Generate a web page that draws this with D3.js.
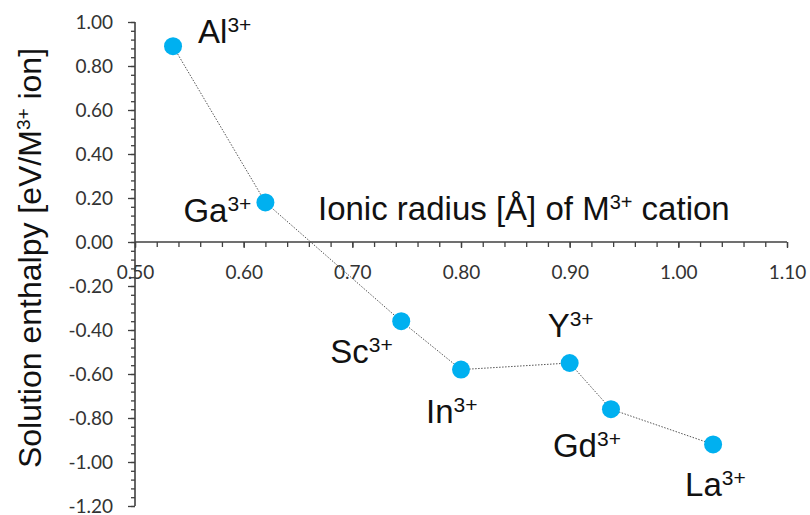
<!DOCTYPE html>
<html>
<head>
<meta charset="utf-8">
<script src="https://cdn.jsdelivr.net/npm/d3@7"></script>
<style>
  html, body { margin: 0; padding: 0; background: #fff; }
  svg { display: block; }
</style>
</head>
<body>
<svg id="chart" width="810" height="515"></svg>
<script>
// ---- data ----
const ions = ["Al", "Ga", "Sc", "In", "Y", "Gd", "La"];
const radius = [0.535, 0.62, 0.745, 0.80, 0.90, 0.938, 1.032];
const enthalpy = [0.89, 0.18, -0.36, -0.58, -0.55, -0.76, -0.92];
const xTickValues = [0.5, 0.6, 0.7, 0.8, 0.9, 1.0, 1.1];
const xTickLabels = ["0.50", "0.60", "0.70", "0.80", "0.90", "1.00", "1.10"];
const yTickValues = [1.0, 0.8, 0.6, 0.4, 0.2, 0.0, -0.2, -0.4, -0.6, -0.8, -1.0, -1.2];
const yTickLabels = ["1.00", "0.80", "0.60", "0.40", "0.20", "0.00", "-0.20", "-0.40", "-0.60", "-0.80", "-1.00", "-1.20"];
const xTitle = ["Ionic radius [Å] of M", "3+", " cation"];
const yTitle = ["Solution enthalpy [eV/M", "3+", " ion]"];

// ---- layout / style (not data) ----
const labelOffsets = [[25, -3], [-82, 20], [-71, 42], [-35, 53], [-22, -26], [-58, 48], [-28, 52]];
const labelFont = "'Liberation Sans', Arial, sans-serif";
const tickFont = "Lato, 'Open Sans', sans-serif";
const axisColor = "#404040";

const svg = d3.select("#chart");
const x = d3.scaleLinear().domain([0.5, 1.1]).range([135, 787]);
const y = d3.scaleLinear().domain([-1.2, 1.0]).range([506, 22]);

const data = ions.map((n, i) => ({ name: n, r: radius[i], h: enthalpy[i], off: labelOffsets[i] }));

// minor ticks
const xMinor = d3.range(0.5, 1.1001, 0.02).map(v => +v.toFixed(2));
const yMinor = d3.range(-1.2, 1.0001, 0.04).map(v => +v.toFixed(2));

// tick labels first (axis lines draw over them)
const xAxisG = svg.append("g").attr("transform", `translate(0,${y(0)})`);
xAxisG.call(d3.axisBottom(x).tickValues(xMinor).tickSize(5).tickFormat(""));
xAxisG.call(g => g.select(".domain").remove());
const xMajor = svg.append("g").attr("transform", `translate(0,${y(0)})`)
  .call(d3.axisBottom(x).tickValues(xTickValues).tickSize(6)
    .tickFormat((d, i) => xTickLabels[i]));
xMajor.select(".domain").remove();
xMajor.selectAll("text")
  .attr("y", 37).attr("dy", 0)
  .attr("font-family", tickFont).attr("font-size", 19).attr("fill", "#333");

const yAxisG = svg.append("g").attr("transform", `translate(${x(0.5)},0)`);
yAxisG.call(d3.axisLeft(y).tickValues(yMinor).tickSize(4).tickFormat(""));
yAxisG.call(g => g.select(".domain").remove());
const yMajor = svg.append("g").attr("transform", `translate(${x(0.5)},0)`)
  .call(d3.axisLeft(y).tickValues(yTickValues).tickSize(7)
    .tickFormat((d, i) => yTickLabels[i]));
yMajor.select(".domain").remove();
yMajor.selectAll("text")
  .attr("x", -22).attr("dy", "0.33em")
  .attr("font-family", tickFont).attr("font-size", 19).attr("fill", "#333");

svg.selectAll(".tick line").attr("stroke", axisColor).attr("stroke-width", 1.3);

// axis lines
svg.append("line").attr("x1", x(0.5)).attr("x2", x(1.1)).attr("y1", y(0)).attr("y2", y(0))
  .attr("stroke", axisColor).attr("stroke-width", 1.6);
svg.append("line").attr("x1", x(0.5)).attr("x2", x(0.5)).attr("y1", y(1.0)).attr("y2", y(-1.2))
  .attr("stroke", axisColor).attr("stroke-width", 1.6);

// connecting dotted line
const line = d3.line().x(d => x(d.r)).y(d => y(d.h));
svg.append("path").datum(data).attr("d", line)
  .attr("fill", "none").attr("stroke", "#555").attr("stroke-width", 1)
  .attr("stroke-dasharray", "1.5,1.5");

// markers
svg.selectAll("circle.pt").data(data).enter().append("circle")
  .attr("class", "pt")
  .attr("cx", d => x(d.r)).attr("cy", d => y(d.h)).attr("r", 9)
  .attr("fill", "#00B0F0");

// labels with superscripts
function supText(sel, parts, big, small, lift) {
  sel.append("tspan").text(parts[0]);
  sel.append("tspan").attr("font-size", small).attr("dy", -lift).text(parts[1]);
  if (parts[2] !== undefined) sel.append("tspan").attr("font-size", big).attr("dy", lift).text(parts[2]);
}

svg.selectAll("text.lbl").data(data).enter().append("text")
  .attr("class", "lbl")
  .attr("x", d => x(d.r) + d.off[0]).attr("y", d => y(d.h) + d.off[1])
  .attr("font-family", labelFont).attr("font-size", 33).attr("fill", "#111")
  .each(function(d) { supText(d3.select(this), [d.name, "3+"], 33, 21, 11); });

// x title
const xt = svg.append("text").attr("x", 318).attr("y", 220)
  .attr("font-family", labelFont).attr("font-size", 33).attr("fill", "#111");
supText(xt, xTitle, 33, 20, 11);

// y title
const yt = svg.append("text").attr("transform", "translate(41,258) rotate(-90)")
  .attr("text-anchor", "middle")
  .attr("font-family", labelFont).attr("font-size", 32).attr("fill", "#111");
supText(yt, yTitle, 32, 19, 11);
</script>
</body>
</html>
